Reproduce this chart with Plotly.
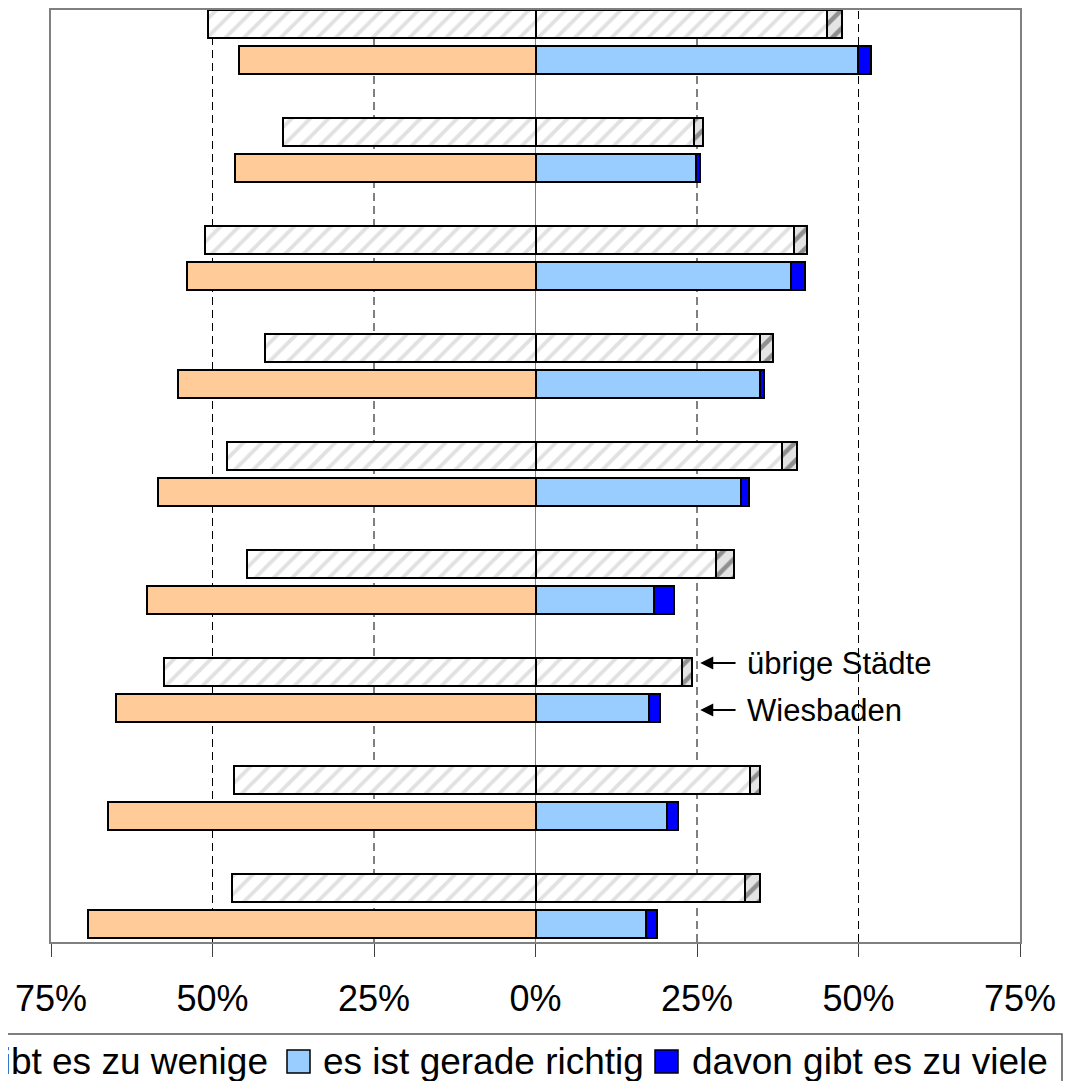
import plotly.graph_objects as go

# Werte in Prozent, Zeilen von oben nach unten (Achsenbeschriftungen im Bild abgeschnitten)
rows = list(range(9))

wenige_uebrige = [50.7, 39.1, 51.2, 41.9, 47.8, 44.7, 57.5, 46.6, 47.0]
richtig_uebrige = [45.2, 24.5, 40.0, 34.7, 38.2, 27.9, 22.6, 33.2, 32.5]
viele_uebrige = [2.2, 1.5, 2.0, 2.0, 2.3, 2.8, 1.6, 1.5, 2.2]

wenige_wiesbaden = [45.9, 46.5, 53.9, 55.3, 58.5, 60.2, 64.9, 66.2, 69.2]
richtig_wiesbaden = [49.9, 24.9, 39.6, 34.8, 31.8, 18.3, 17.6, 20.4, 17.1]
viele_wiesbaden = [2.0, 0.6, 2.1, 0.6, 1.2, 3.1, 1.6, 1.6, 1.7]

tick_vals = [-75, -50, -25, 0, 25, 50, 75]
tick_text = ["75%", "50%", "25%", "0%", "25%", "50%", "75%"]
grid_vals = [-50, -25, 25, 50]

legend_labels = ["davon gibt es zu wenige", "es ist gerade richtig", "davon gibt es zu viele"]
legend_colors = ["#FFCC99", "#99CCFF", "#0000FF"]

# die Seite hat 8px Rand, daher Figur etwas kleiner
OFF = 8
W, H = 1063, 1073
L, R, T, B = 43, 51, 2, 139
FONT = "Liberation Sans, Arial, sans-serif"


def fx(px):
    # Bildschirm-Pixel -> paper
    return (px - OFF - L) / (W - L - R)


def fy(py):
    return (H - B - (py - OFF)) / (H - T - B)


y_ueb = [r - 0.1667 for r in rows]
y_wi = [r + 0.1667 for r in rows]
bar_w = 0.26
edge = dict(color="black", width=2)

light_hatch = dict(shape="/", fgcolor="#c4c4c4", bgcolor="white", size=13, solidity=0.3)
dark_hatch = dict(shape="/", fgcolor="#3a3a3a", bgcolor="#e4e4e4", size=13, solidity=0.35)

fig = go.Figure()

fig.add_trace(go.Bar(y=y_ueb, x=[-v for v in wenige_uebrige], orientation="h", width=bar_w,
                     marker=dict(color="white", line=edge, pattern=light_hatch)))
fig.add_trace(go.Bar(y=y_ueb, x=richtig_uebrige, orientation="h", width=bar_w,
                     marker=dict(color="white", line=edge, pattern=light_hatch)))
fig.add_trace(go.Bar(y=y_ueb, x=viele_uebrige, orientation="h", width=bar_w,
                     marker=dict(color="#e4e4e4", line=edge, pattern=dark_hatch)))

fig.add_trace(go.Bar(y=y_wi, x=[-v for v in wenige_wiesbaden], orientation="h", width=bar_w,
                     marker=dict(color=legend_colors[0], line=edge)))
fig.add_trace(go.Bar(y=y_wi, x=richtig_wiesbaden, orientation="h", width=bar_w,
                     marker=dict(color=legend_colors[1], line=edge)))
fig.add_trace(go.Bar(y=y_wi, x=viele_wiesbaden, orientation="h", width=bar_w,
                     marker=dict(color=legend_colors[2], line=edge)))

fig.update_traces(showlegend=False, hoverinfo="x")

# gestrichelte Hilfslinien
for g in grid_vals:
    fig.add_shape(type="line", xref="x", yref="paper", x0=g, x1=g, y0=0, y1=1,
                  line=dict(color="black", width=1, dash="8px,5px"), layer="below")

# Pfeile mit Beschriftung
for yy, txt in [(5.75, "übrige Städte"), (6.185, "Wiesbaden")]:
    fig.add_annotation(x=25.5, y=yy, ax=31.2, ay=yy, xref="x", yref="y", axref="x", ayref="y",
                       text="", showarrow=True, arrowhead=2, arrowsize=1.3, arrowwidth=2,
                       arrowcolor="black")
    fig.add_annotation(x=32.5, y=yy, xref="x", yref="y", text=txt, showarrow=False,
                       xanchor="left", yanchor="middle", font=dict(size=31, color="black", family=FONT))

# Legende (links abgeschnitten wie im Original)
fig.add_shape(type="rect", xref="paper", yref="paper", x0=fx(-300), x1=fx(1062), y0=fy(1034), y1=fy(1130),
              line=dict(color="#555555", width=1.5), fillcolor="white", layer="above")
sq_left = [-166, 287, 655]
txt_left = [-131, 321, 690]
leg_y = 1061
for sx, tx, lab, col in zip(sq_left, txt_left, legend_labels, legend_colors):
    fig.add_shape(type="rect", xref="paper", yref="paper", x0=fx(sx), x1=fx(sx + 23),
                  y0=fy(leg_y - 11), y1=fy(leg_y + 12), fillcolor=col,
                  line=dict(color="black", width=1.5), layer="above")
    fig.add_annotation(x=fx(tx), y=fy(leg_y), xref="paper", yref="paper", text=lab, showarrow=False,
                       xanchor="left", yanchor="middle", font=dict(size=37, color="black", family=FONT))

fig.update_layout(
    width=W, height=H,
    barmode="relative",
    bargap=0,
    plot_bgcolor="white", paper_bgcolor="white",
    margin=dict(l=L, r=R, t=T, b=B, autoexpand=False),
    font=dict(family=FONT, color="black"),
    xaxis=dict(range=[-75, 75], tickvals=tick_vals, ticktext=tick_text, showgrid=False,
               zeroline=True, zerolinecolor="#808080", zerolinewidth=1,
               showline=True, mirror=True, linecolor="#808080", linewidth=2,
               ticks="outside", ticklen=13, tickwidth=1, tickcolor="#404040",
               tickfont=dict(size=36, family=FONT), ticklabelstandoff=11),
    yaxis=dict(range=[8.333, -0.296], showticklabels=False, showgrid=False, zeroline=False,
               showline=True, mirror=True, linecolor="#808080", linewidth=2, ticks=""),
)

fig.write_html("out.html")
